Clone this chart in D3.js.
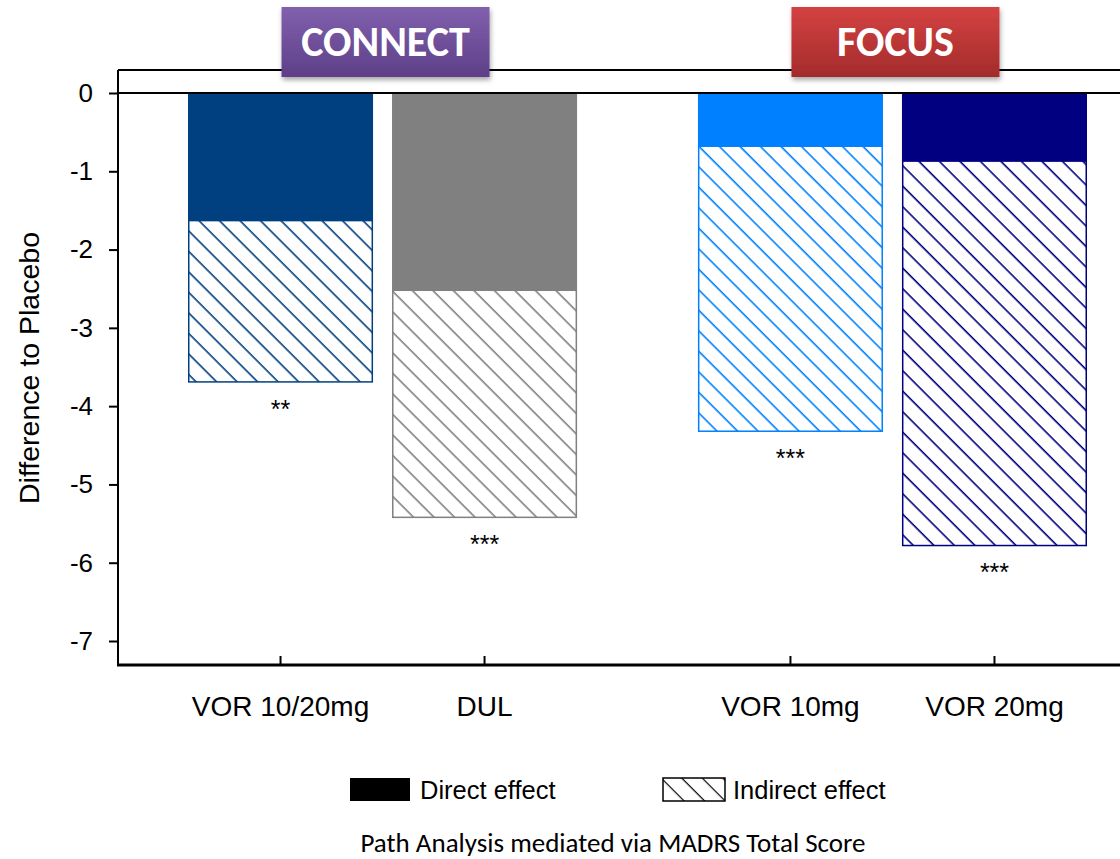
<!DOCTYPE html>
<html>
<head>
<meta charset="utf-8">
<script src="https://cdn.jsdelivr.net/npm/d3@7"></script>
<style>
  html, body { margin: 0; padding: 0; background: #fff; }
  svg { display: block; }
</style>
</head>
<body>
<svg id="chart" width="1120" height="859"></svg>
<script>
// Studies and the treatment arms within each one
const studies = ["CONNECT", "FOCUS"];
const arms = ["VOR 10/20mg", "DUL", "VOR 10mg", "VOR 20mg"];
const armStudy = ["CONNECT", "CONNECT", "FOCUS", "FOCUS"];
// Difference to placebo (MADRS): direct effect and total (direct + indirect)
const directEffect = [-1.63, -2.52, -0.68, -0.87];
const totalEffect = [-3.70, -5.43, -4.33, -5.79];
const significance = ["**", "***", "***", "***"];
const armColors = ["#004080", "#808080", "#0080ff", "#000080"];
const yTicks = [0, -1, -2, -3, -4, -5, -6, -7];
const studyColors = { CONNECT: ["#8160ad", "#5e3f88"], FOCUS: ["#d44242", "#a42b2b"] };

const svg = d3.select("#chart");
const font = "Liberation Sans, Arial, sans-serif";
const calibri = "Carlito, 'Open Sans', 'Noto Sans', sans-serif";

const plotLeft = 118, plotRight = 1120, plotTop = 70, plotBottom = 665;

const y = d3.scaleLinear().domain([0, -7]).range([93, 641]);

// Outer scale for studies, inner scale for the arms of each study
const xStudy = d3.scaleBand().domain(studies).range([188, 1087]).paddingInner(0.237).paddingOuter(0);
const xArm = d3.scaleBand().range([0, xStudy.bandwidth()]).paddingInner(0.093).paddingOuter(0);

const armsOf = s => arms.filter((a, i) => armStudy[i] === s);
const barX = i => xStudy(armStudy[i]) + xArm.domain(armsOf(armStudy[i]))(arms[i]);
const barW = () => xArm.bandwidth();

const defs = svg.append("defs");

// Diagonal hatch patterns, one per arm colour
const hatchStep = 14.5;
armColors.forEach((c, i) => {
  const p = defs.append("pattern")
    .attr("id", "hatch" + i)
    .attr("patternUnits", "userSpaceOnUse")
    .attr("width", hatchStep).attr("height", hatchStep)
    .attr("patternTransform", "rotate(45)");
  p.append("rect").attr("width", hatchStep).attr("height", hatchStep).attr("fill", "#fff");
  p.append("line").attr("x1", 0).attr("y1", 0).attr("x2", hatchStep).attr("y2", 0)
    .attr("stroke", c).attr("stroke-width", 3.2);
});
const legendHatch = defs.append("pattern")
  .attr("id", "hatchLegend")
  .attr("patternUnits", "userSpaceOnUse")
  .attr("x", 662).attr("y", 778)
  .attr("width", 14.5).attr("height", 14.5)
  .attr("patternTransform", "rotate(45)");
legendHatch.append("rect").attr("width", 14.5).attr("height", 14.5).attr("fill", "#fff");
legendHatch.append("line").attr("x1", 0).attr("y1", 0).attr("x2", 14.5).attr("y2", 0)
  .attr("stroke", "#000").attr("stroke-width", 2.4);

// Gradients and shadow for the study header badges
Object.entries(studyColors).forEach(([k, [top, bot]]) => {
  const g = defs.append("linearGradient").attr("id", "grad" + k)
    .attr("x1", 0).attr("y1", 0).attr("x2", 0).attr("y2", 1);
  g.append("stop").attr("offset", "0%").attr("stop-color", top);
  g.append("stop").attr("offset", "100%").attr("stop-color", bot);
});
const shadow = defs.append("filter").attr("id", "shadow")
  .attr("x", "-10%").attr("y", "-10%").attr("width", "130%").attr("height", "140%");
shadow.append("feDropShadow").attr("dx", 1).attr("dy", 3).attr("stdDeviation", 2.5)
  .attr("flood-color", "#000").attr("flood-opacity", 0.35);

// Frame: top border
svg.append("line").attr("x1", plotLeft).attr("x2", plotRight)
  .attr("y1", plotTop).attr("y2", plotTop).attr("stroke", "#000").attr("stroke-width", 2);

// Indirect (hatched) portion: from direct effect down to total
svg.append("g").selectAll("rect").data(arms).join("rect")
  .attr("x", (d, i) => barX(i) + 0.75)
  .attr("width", barW() - 1.5)
  .attr("y", (d, i) => y(directEffect[i]))
  .attr("height", (d, i) => y(totalEffect[i]) - y(directEffect[i]) - 0.75)
  .attr("fill", (d, i) => `url(#hatch${i})`)
  .attr("stroke", (d, i) => armColors[i])
  .attr("stroke-width", 1.5);

// Direct (solid) portion: from zero to direct effect
svg.append("g").selectAll("rect").data(arms).join("rect")
  .attr("x", (d, i) => barX(i))
  .attr("width", barW())
  .attr("y", y(0))
  .attr("height", (d, i) => y(directEffect[i]) - y(0))
  .attr("fill", (d, i) => armColors[i]);

// Significance stars below each bar
svg.append("g").selectAll("text").data(significance).join("text")
  .attr("x", (d, i) => barX(i) + barW() / 2)
  .attr("y", (d, i) => y(totalEffect[i]) + 35)
  .attr("text-anchor", "middle")
  .attr("font-family", font).attr("font-size", 25)
  .attr("fill", "#000")
  .text(d => d);

// Zero line
svg.append("line").attr("x1", plotLeft).attr("x2", plotRight)
  .attr("y1", y(0)).attr("y2", y(0)).attr("stroke", "#000").attr("stroke-width", 2);

// Y axis
const yAxis = svg.append("g").attr("transform", `translate(${plotLeft},0)`)
  .call(d3.axisLeft(y).tickValues(yTicks).tickSize(9).tickPadding(16).tickFormat(d => String(d)));
yAxis.select(".domain").remove();
yAxis.append("line").attr("x1", 0).attr("x2", 0).attr("y1", plotTop).attr("y2", plotBottom)
  .attr("stroke", "#000").attr("stroke-width", 2);
yAxis.selectAll(".tick line").attr("stroke", "#000").attr("stroke-width", 2);
yAxis.selectAll(".tick text").attr("font-family", font).attr("font-size", 26).attr("fill", "#000");

// X axis
svg.append("line").attr("x1", plotLeft - 1).attr("x2", plotRight)
  .attr("y1", plotBottom).attr("y2", plotBottom).attr("stroke", "#000").attr("stroke-width", 3);
const xTicks = svg.append("g");
arms.forEach((a, i) => {
  const cx = barX(i) + barW() / 2;
  xTicks.append("line").attr("x1", cx).attr("x2", cx)
    .attr("y1", plotBottom - 9).attr("y2", plotBottom)
    .attr("stroke", "#000").attr("stroke-width", 2);
  xTicks.append("text").attr("x", cx).attr("y", 716)
    .attr("text-anchor", "middle")
    .attr("font-family", font).attr("font-size", 28).attr("fill", "#000")
    .text(a);
});

// Y axis title
svg.append("text")
  .attr("transform", "translate(39,368) rotate(-90)")
  .attr("text-anchor", "middle")
  .attr("font-family", font).attr("font-size", 28.5).attr("fill", "#000")
  .text("Difference to Placebo");

// Study header badges
studies.forEach(s => {
  const cx = xStudy(s) + xStudy.bandwidth() / 2;
  const g = svg.append("g");
  g.append("rect").attr("x", cx - 101).attr("y", 7).attr("width", 208).attr("height", 70)
    .attr("fill", `url(#grad${s})`).attr("filter", "url(#shadow)");
  g.append("text").attr("x", cx + 3).attr("y", 56)
    .attr("text-anchor", "middle")
    .attr("font-family", calibri).attr("font-weight", "bold").attr("font-size", 42)
    .attr("fill", "#fff")
    .text(s);
});

// Legend
const legend = svg.append("g");
legend.append("rect").attr("x", 350).attr("y", 778).attr("width", 60).attr("height", 23).attr("fill", "#000");
legend.append("text").attr("x", 420).attr("y", 799)
  .attr("font-family", font).attr("font-size", 25.5).attr("fill", "#000").text("Direct effect");
legend.append("rect").attr("x", 663).attr("y", 778).attr("width", 62).attr("height", 23)
  .attr("fill", "url(#hatchLegend)").attr("stroke", "#000").attr("stroke-width", 1.5);
legend.append("text").attr("x", 733).attr("y", 799)
  .attr("font-family", font).attr("font-size", 25.5).attr("fill", "#000").text("Indirect effect");

// Footnote
svg.append("text").attr("x", 613).attr("y", 852)
  .attr("text-anchor", "middle")
  .attr("font-family", calibri).attr("font-size", 27).attr("fill", "#000")
  .text("Path Analysis mediated via MADRS Total Score");
</script>
</body>
</html>
